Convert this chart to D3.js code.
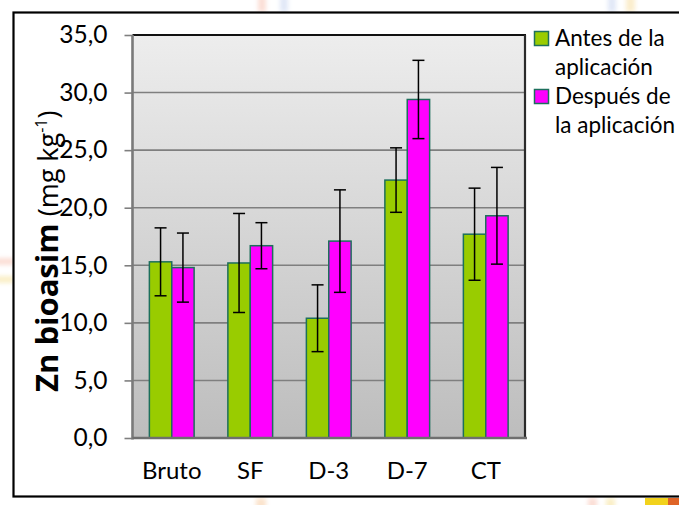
<!DOCTYPE html>
<html>
<head>
<meta charset="utf-8">
<script src="https://cdn.jsdelivr.net/npm/d3@7"></script>
<style>
  html, body { margin: 0; padding: 0; background: #fff; }
  svg { display: block; }
  text { font-family: Lato, "Open Sans", sans-serif; fill: #000; }
</style>
</head>
<body>
<svg id="chart" width="679" height="505"></svg>
<script>
// Zn bioasimilable por tratamiento, antes y después de la aplicación
const categories = ["Bruto", "SF", "D-3", "D-7", "CT"];
const seriesNames = ["Antes de la aplicación", "Después de la aplicación"];
const legendLines = [["Antes de la", "aplicación"], ["Después de", "la aplicación"]];
const antes = [15.3, 15.2, 10.4, 22.4, 17.7];
const despues = [14.8, 16.7, 17.1, 29.4, 19.3];
const errAntes = [2.95, 4.3, 2.9, 2.8, 4.0];
const errDespues = [3.0, 2.0, 4.45, 3.4, 4.2];
const yTicks = [0, 5, 10, 15, 20, 25, 30, 35];
const colors = ["#99cc00", "#ff00ff"];

const svg = d3.select("#chart");
const W = 679, H = 505;
const plot = { left: 132.5, right: 525, top: 35, bottom: 438 };

const defs = svg.append("defs");
const grad = defs.append("linearGradient")
  .attr("id", "plotBg").attr("x1", 0).attr("y1", 0).attr("x2", 0).attr("y2", 1);
grad.append("stop").attr("offset", "0%").attr("stop-color", "#ededed");
grad.append("stop").attr("offset", "100%").attr("stop-color", "#bdbdbd");
defs.append("filter").attr("id", "soft")
  .append("feGaussianBlur").attr("stdDeviation", 2);

svg.append("rect").attr("width", W).attr("height", H).attr("fill", "#fff");

// faint background decoration around the frame
const deco = svg.append("g").attr("filter", "url(#soft)").attr("opacity", 0.35);
[
  [258, -4, 8, 16, "#f4a38a"], [280, -4, 8, 16, "#a9bde8"],
  [608, -4, 8, 16, "#a9bde8"], [626, -4, 9, 16, "#f3cc70"],
  [-4, 258, 18, 7, "#f4a38a"], [-4, 276, 18, 7, "#f0d060"],
  [588, 498, 9, 12, "#f4a38a"], [606, 498, 9, 12, "#f0d060"],
  [256, 498, 10, 12, "#f3b070"]
].forEach(d => deco.append("rect")
  .attr("x", d[0]).attr("y", d[1]).attr("width", d[2]).attr("height", d[3]).attr("fill", d[4]));
svg.append("rect").attr("x", 645).attr("y", 498).attr("width", 40).attr("height", 10).attr("fill", "#f2d21c");
svg.append("rect").attr("x", 668).attr("y", 498).attr("width", 12).attr("height", 10).attr("fill", "#d9482a").attr("opacity", 0.8);

// chart frame
svg.append("rect")
  .attr("x", 13.5).attr("y", 12.5).attr("width", 700).attr("height", 484)
  .attr("fill", "#fff").attr("stroke", "#000").attr("stroke-width", 2.2);

// scales
const x0 = d3.scaleBand().domain(categories)
  .range([plot.left, plot.right]).paddingInner(0.43).paddingOuter(0.215);
const x1 = d3.scaleBand().domain([0, 1]).range([0, x0.bandwidth()]);
const y = d3.scaleLinear().domain([0, 35]).range([plot.bottom, plot.top]);

const locale = d3.formatLocale({ decimal: ",", thousands: ".", grouping: [3], currency: ["", "€"] });
const fmt = locale.format(".1f");

// plot background
svg.append("rect")
  .attr("x", plot.left).attr("y", plot.top)
  .attr("width", plot.right - plot.left).attr("height", plot.bottom - plot.top)
  .attr("fill", "url(#plotBg)");

// gridlines
svg.append("g").selectAll("line").data(yTicks.filter(t => t > 0 && t < 35)).join("line")
  .attr("x1", plot.left).attr("x2", plot.right)
  .attr("y1", d => y(d)).attr("y2", d => y(d))
  .attr("stroke", "#7f7f7f").attr("stroke-width", 1.6);

// y axis
const yAxis = svg.append("g")
  .attr("transform", `translate(${plot.left},0)`)
  .call(d3.axisLeft(y).tickValues(yTicks).tickFormat(fmt).tickSize(8).tickPadding(17));
yAxis.select(".domain").remove();
yAxis.selectAll(".tick line").attr("stroke", "#7f7f7f").attr("stroke-width", 1.6);
yAxis.selectAll(".tick text")
  .style("font-family", "Lato, sans-serif").style("font-size", "24.5px").attr("fill", "#000");

// x axis labels
const xAxis = svg.append("g")
  .attr("transform", `translate(0,${plot.bottom})`)
  .call(d3.axisBottom(x0).tickSize(0).tickPadding(24));
xAxis.select(".domain").remove();
xAxis.selectAll(".tick text")
  .style("font-family", "Lato, sans-serif").style("font-size", "24px").attr("fill", "#000");

// bars
const seriesVals = [antes, despues];
const seriesErr = [errAntes, errDespues];
const barData = [];
categories.forEach((c, i) => {
  [0, 1].forEach(s => barData.push({ cat: c, s, v: seriesVals[s][i], e: seriesErr[s][i] }));
});

svg.append("g").selectAll("rect").data(barData).join("rect")
  .attr("x", d => x0(d.cat) + x1(d.s))
  .attr("y", d => y(d.v))
  .attr("width", x1.bandwidth())
  .attr("height", d => y(0) - y(d.v))
  .attr("fill", d => colors[d.s])
  .attr("stroke", "#1d6f5c").attr("stroke-width", 1.5);

// plot border: dark top and right, grey left and bottom
svg.append("line").attr("x1", plot.left).attr("x2", plot.right + 1)
  .attr("y1", plot.top).attr("y2", plot.top).attr("stroke", "#111").attr("stroke-width", 2.2);
svg.append("line").attr("x1", plot.right).attr("x2", plot.right)
  .attr("y1", plot.top).attr("y2", plot.bottom).attr("stroke", "#2b2b2b").attr("stroke-width", 2.2);
svg.append("line").attr("x1", plot.left).attr("x2", plot.left)
  .attr("y1", plot.top).attr("y2", plot.bottom + 1.5).attr("stroke", "#7a7a7a").attr("stroke-width", 2.6);
svg.append("line").attr("x1", plot.left).attr("x2", plot.right + 2)
  .attr("y1", plot.bottom).attr("y2", plot.bottom).attr("stroke", "#6f6f6f").attr("stroke-width", 2.6);

// error bars
const eb = svg.append("g").attr("stroke", "#000").attr("stroke-width", 1.5);
barData.forEach(d => {
  const cx = x0(d.cat) + x1(d.s) + x1.bandwidth() / 2;
  const yt = y(d.v + d.e), yb = y(d.v - d.e);
  eb.append("line").attr("x1", cx).attr("x2", cx).attr("y1", yt).attr("y2", yb);
  eb.append("line").attr("x1", cx - 6).attr("x2", cx + 6).attr("y1", yt).attr("y2", yt);
  eb.append("line").attr("x1", cx - 6).attr("x2", cx + 6).attr("y1", yb).attr("y2", yb);
});

// y title
const yt = svg.append("text")
  .attr("transform", "translate(58,392) rotate(-90)")
  .attr("text-anchor", "start")
  .style("font-family", "'Open Sans', sans-serif");
yt.append("tspan").text("Zn bioasim").style("font-weight", "bold").style("font-size", "31px");
yt.append("tspan").text(" (mg kg").style("font-size", "27px");
yt.append("tspan").text("-1").style("font-size", "16px").attr("dy", -11);
yt.append("tspan").text(")").style("font-size", "27px").attr("dy", 11);

// legend
const leg = svg.append("g");
legendLines.forEach((lines, i) => {
  const top = 31 + i * 58;
  leg.append("rect").attr("x", 534.5).attr("y", top + 0.5).attr("width", 14).attr("height", 14)
    .attr("fill", colors[i]).attr("stroke", "#1d6f5c").attr("stroke-width", 1.5);
  lines.forEach((t, k) => {
    leg.append("text").attr("x", 555).attr("y", top + 15 + k * 28.5)
      .style("font-size", "22.5px").text(t);
  });
});
</script>
</body>
</html>
